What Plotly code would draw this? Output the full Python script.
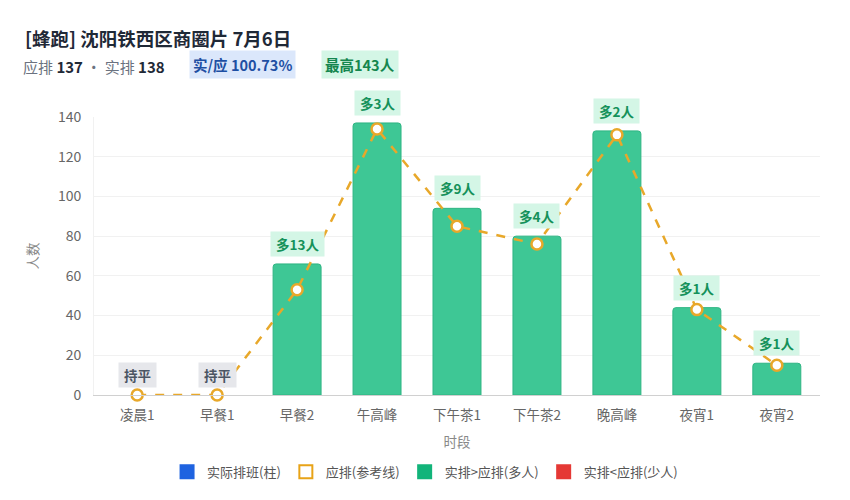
import plotly.graph_objects as go

categories = ["凌晨1", "早餐1", "早餐2", "午高峰", "下午茶1", "下午茶2", "晚高峰", "夜宵1", "夜宵2"]
actual = [0, 0, 66, 137, 94, 80, 133, 44, 16]
planned = [0, 0, 53, 134, 85, 76, 131, 43, 15]

title = "[蜂跑] 沈阳铁西区商圈片 7月6日"
total_planned = 137
total_actual = 138
ratio_text = "实/应 100.73%"
peak_text = "最高143人"

FONT = "Noto Sans CJK SC"
GREEN = "#3ec795"
ORANGE = "#e8a82a"

fig = go.Figure()

fig.add_trace(go.Bar(
    x=categories, y=actual,
    marker=dict(color=GREEN, cornerradius=3,
                line=dict(color="#2fb583", width=[1 if a > 0 else 0 for a in actual])),
    showlegend=False, hoverinfo="x+y",
))

fig.add_trace(go.Scatter(
    x=categories, y=planned, mode="lines+markers",
    line=dict(color=ORANGE, width=2.5, dash="dash"),
    marker=dict(size=11, color="white", line=dict(color=ORANGE, width=2.5)),
    showlegend=False, cliponaxis=False,
))

# legend entries
legend_items = [
    ("实际排班(柱)", "square", "#1f63e0"),
    ("应排(参考线)", "square-open", "#e8a317"),
    ("实排>应排(多人)", "square", "#12b47a"),
    ("实排<应排(少人)", "square", "#e53935"),
]
for name, sym, col in legend_items:
    fig.add_trace(go.Scatter(
        x=[None], y=[None], mode="markers", name=name,
        marker=dict(symbol=sym, size=13, color=col, line=dict(color=col, width=2)),
    ))

# difference labels above each slot
for c, a, p in zip(categories, actual, planned):
    d = a - p
    if d > 0:
        txt, bg, fg = f"多{d}人", "#d4f6e6", "#14915a"
    elif d < 0:
        txt, bg, fg = f"少{-d}人", "#fde2e2", "#c62828"
    else:
        txt, bg, fg = "持平", "#e6e7eb", "#4b5563"
    fig.add_annotation(
        x=c, y=max(a, p), text=f"<b> {txt} </b>", showarrow=False,
        yanchor="bottom", yshift=7, bgcolor=bg, borderpad=2,
        font=dict(size=13.5, color=fg, family=FONT),
    )

# header
fig.add_annotation(
    xref="paper", yref="paper", x=-0.098, y=1.284, xanchor="left", yanchor="middle",
    text=f"<b>{title}</b>", showarrow=False,
    font=dict(size=18.5, color="#1f2937", family=FONT),
)
fig.add_annotation(
    xref="paper", yref="paper", x=-0.1, y=1.183, xanchor="left", yanchor="middle",
    text=f"应排 <b style='color:#1f2937'>{total_planned}</b> · 实排 <b style='color:#1f2937'>{total_actual}</b>",
    showarrow=False, font=dict(size=15, color="#6b7280", family=FONT),
)
fig.add_annotation(
    xref="paper", yref="paper", x=0.205, y=1.19, xanchor="center", yanchor="middle",
    text=f"<b>{ratio_text}</b>", showarrow=False, bgcolor="#dbe7fb", borderpad=3,
    font=dict(size=14.5, color="#1e4fa3", family=FONT),
)
fig.add_annotation(
    xref="paper", yref="paper", x=0.367, y=1.19, xanchor="center", yanchor="middle",
    text=f"<b>{peak_text}</b>", showarrow=False, bgcolor="#d4f6e6", borderpad=3,
    font=dict(size=14.5, color="#15864f", family=FONT),
)

fig.update_layout(
    width=850, height=500,
    margin=dict(l=86, r=38, t=109, b=113),
    plot_bgcolor="white", paper_bgcolor="white",
    font=dict(family=FONT, color="#666"),
    bargap=0.4,
    legend=dict(orientation="h", x=0.456, xanchor="center", y=-0.222, yanchor="top",
                font=dict(size=13, color="#555"), itemwidth=30),
    xaxis=dict(
        title=dict(text="时段", font=dict(size=13.5, color="#888"), standoff=14),
        tickfont=dict(size=13.5, color="#666"), automargin=False, ticklabelstandoff=8,
        showline=True, linecolor="#d0d0d0", ticks="", showgrid=False,
    ),
    yaxis=dict(
        title=dict(text="人数", font=dict(size=13.5, color="#888"), standoff=16),
        range=[0, 140], dtick=20, tickfont=dict(size=14, color="#666"), automargin=False,
        ticklabelstandoff=9,
        gridcolor="#f1f1f1", zeroline=False, showline=True, linecolor="#f1f1f1",
    ),
)

fig.write_html("out.html")
